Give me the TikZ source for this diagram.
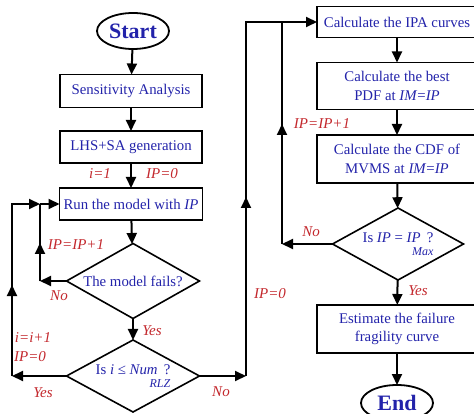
\documentclass[tikz,border=0pt]{standalone}
\usepackage{fontspec}
\setmainfont{Liberation Serif}
\usetikzlibrary{shapes.geometric,arrows.meta}
\definecolor{txtblue}{RGB}{35,35,170}
\definecolor{lblred}{RGB}{195,40,45}
\begin{document}
\begin{tikzpicture}[x=1pt,y=-1pt,inner sep=0pt,outer sep=0pt,line width=2pt,
>={Triangle[length=11pt,width=10pt]},
procblock/.style={draw,rectangle,line width=1.6pt,align=center,text=txtblue,font=\fontsize{14.8}{18.5}\selectfont},
decblock/.style={draw,diamond,line width=1.6pt,aspect=1.8,text=txtblue,font=\fontsize{14.8}{18}\selectfont},
termblock/.style={draw,ellipse,line width=1.8pt,minimum width=72pt,minimum height=36pt,text=txtblue,font=\fontsize{22}{24}\selectfont\bfseries},
lbl/.style={text=lblred,font=\fontsize{15}{17}\selectfont\itshape}]
\useasboundingbox (0,0) rectangle (474,414);

% left column
\draw (133,31) node[termblock] (start) {Start};
\draw (131,91) node[procblock,minimum width=142pt,minimum height=33pt] (sa) {Sensitivity Analysis};
\draw (131,147) node[procblock,minimum width=142pt,minimum height=32pt] (lhs) {LHS+SA generation};
\draw (131,204) node[procblock,minimum width=143pt,minimum height=32pt] (run) {Run the model with \textit{IP}};
\draw (133,281) node[decblock,minimum width=133pt,minimum height=75pt] (fail) {The model fails?};
\draw (133,376) node[decblock,minimum width=133pt,minimum height=72pt] (rlz)
  {Is \textit{i} ≤ \textit{Num} \,?\llap{\raisebox{-1.9ex}{\fontsize{12}{13}\selectfont\textit{RLZ}}}};

% right column
\draw (397,22) node[procblock,minimum width=160pt,minimum height=31pt] (ipa) {Calculate the IPA curves};
\draw (397,86) node[procblock,minimum width=160pt,minimum height=47pt] (pdf) {Calculate the best\\PDF at \textit{IM}=\textit{IP}};
\draw (397,159) node[procblock,minimum width=160pt,minimum height=48pt] (cdf) {Calculate the CDF of\\MVMS at \textit{IM}=\textit{IP}};
\draw (398,244) node[decblock,minimum width=131pt,minimum height=72pt] (max)
  {Is \textit{IP} = \textit{IP} \,?\llap{\raisebox{-1.9ex}{\fontsize{12}{13}\selectfont\textit{Max}}}};
\draw (397,329) node[procblock,minimum width=160pt,minimum height=48pt] (est) {Estimate the failure\\fragility curve};
\draw (397,403) node[termblock] (end) {End};

% main flow
\draw[->] (start) -- (sa);
\draw[->] (sa) -- (lhs);
\draw[->] (lhs) -- (run);
\draw (100,174) node[lbl] {i=1};
\draw (162,174) node[lbl] {IP=0};
\draw[->] (run) -- (fail);
\draw[->] (fail) -- (rlz);
\draw (152,331) node[lbl] {Yes};

% inner loop, left
\coordinate (jl) at (40,204);
\draw[->] (fail.west) -- (40,281) coordinate (il);
\draw[->] (il) -- ++(0,-38);
\draw (il) -- (jl);
\draw[->] (jl) -- (run.west);
\draw (76,245) node[lbl] {IP=IP+1};
\draw (59,296) node[lbl] {No};

% outer loop, left
\draw[->] (rlz.west) -- (12,376) coordinate (ol);
\draw[->] (ol) -- ++(0,-91);
\draw[->] (ol) |- (jl);
\draw (33,338) node[lbl] {i=i+1};
\draw (30,357) node[lbl] {IP=0};
\draw (43,393) node[lbl] {Yes};

% over to the right column
\draw[->] (rlz.east) -- (246,376) coordinate (or);
\draw[->] (or) -- ++(0,-179);
\draw[->] (or) |- (ipa.west);
\draw (221,392) node[lbl] {No};
\draw (270,294) node[lbl] {IP=0};

\draw[->] (ipa) -- (pdf);
\draw[->] (pdf) -- (cdf);
\draw[->] (cdf) -- (max);
\draw[->] (max) -- (est);
\draw (418,291) node[lbl] {Yes};
\draw[->] (est) -- (end);

% inner loop, right
\draw[->] (max.west) -- (282,244) coordinate (ir);
\draw[->] (ir) -- (282,124);
\draw (ir) -- (282,22);
\draw (322,124) node[lbl] {IP=IP+1};
\draw (311,232) node[lbl] {No};
\end{tikzpicture}
\end{document}
